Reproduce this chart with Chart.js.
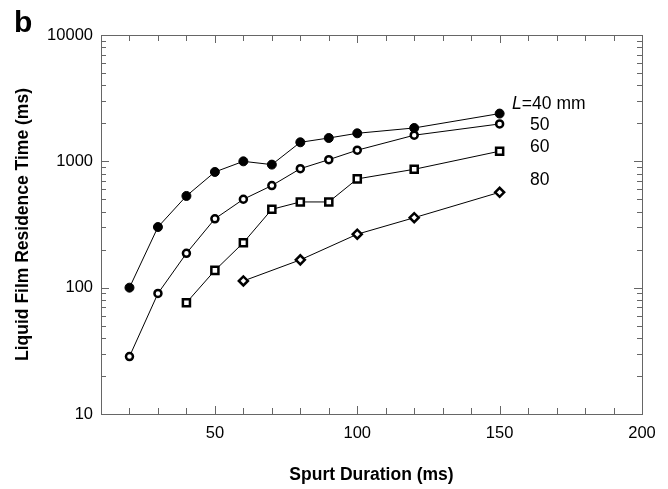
<!DOCTYPE html>
<html>
<head>
<meta charset="utf-8">
<script src="https://cdn.jsdelivr.net/npm/chart.js@4.4.1/dist/chart.umd.min.js"></script>
<style>
  html, body { margin: 0; padding: 0; background: #fff; }
  #wrap { width: 668px; height: 489px; position: relative; }
</style>
</head>
<body>
<div id="wrap"><canvas id="chart"></canvas></div>
<script>
// data (spurt duration in ms, residence time in ms)
const spurtL40 = [20, 30, 40, 50, 60, 70, 80, 90, 100, 120, 150];
const timeL40  = [100, 302, 532, 824, 1000, 942, 1415, 1530, 1667, 1837, 2388];

const spurtL50 = [20, 30, 40, 50, 60, 70, 80, 90, 100, 120, 150];
const timeL50  = [28.5, 90, 187, 351, 501, 643, 875, 1031, 1225, 1610, 1977];

const spurtL60 = [40, 50, 60, 70, 80, 90, 100, 120, 150];
const timeL60  = [76, 137, 227, 417, 477, 477, 726, 865, 1203];

const spurtL80 = [60, 80, 100, 120, 150];
const timeL80  = [113, 166, 265, 358, 569];

const seriesNames = ["40 mm", "50", "60", "80"];
const xTickValues = [50, 100, 150, 200];
const yTickValues = [10, 100, 1000, 10000];

const FONT = "'Liberation Sans', Arial, sans-serif";
const AXIS_COLOR = "#666";

function toPoints(xs, ys) {
  return xs.map((x, i) => ({ x: x, y: ys[i] }));
}

// frame, inward ticks, panel letter and the L labels
const decorPlugin = {
  id: "decor",
  afterDraw(chart) {
    const { ctx, chartArea: a, scales } = chart;
    const xs = scales.x, ys = scales.y;
    ctx.save();
    ctx.strokeStyle = AXIS_COLOR;
    ctx.lineWidth = 1;
    ctx.strokeRect(a.left + 0.5, a.top + 0.5, a.right - a.left, a.bottom - a.top);

    ctx.beginPath();
    // x ticks every 10, longer every 50
    for (let v = 10; v <= 200; v += 10) {
      const px = Math.round(xs.getPixelForValue(v)) + 0.5;
      const len = v % 50 === 0 ? 8 : 6;
      ctx.moveTo(px, a.bottom); ctx.lineTo(px, a.bottom - len);
      ctx.moveTo(px, a.top); ctx.lineTo(px, a.top + len);
    }
    // y log ticks
    for (let d = 10; d <= 10000; d *= 10) {
      for (let m = 1; m <= 9; m++) {
        const v = d * m;
        if (v > 10000) break;
        const py = Math.round(ys.getPixelForValue(v)) + 0.5;
        const len = m === 1 ? 8 : 5;
        ctx.moveTo(a.left, py); ctx.lineTo(a.left + len, py);
        ctx.moveTo(a.right, py); ctx.lineTo(a.right - len, py);
      }
    }
    ctx.stroke();

    // panel letter
    ctx.fillStyle = "#000";
    ctx.textBaseline = "alphabetic";
    ctx.textAlign = "left";
    ctx.font = "bold 30px " + FONT;
    ctx.fillText("b", 14, 32);

    // series labels at the right end
    const labelX = xs.getPixelForValue(160.7);
    ctx.textBaseline = "middle";
    ctx.font = "italic 17.5px " + FONT;
    const lx = labelX - 18;
    const y0 = ys.getPixelForValue(2845);
    ctx.fillText("L", lx, y0);
    const lw = ctx.measureText("L").width;
    ctx.font = "17.5px " + FONT;
    ctx.fillText("=" + seriesNames[0], lx + lw, y0);
    ctx.fillText(seriesNames[1], labelX, ys.getPixelForValue(1940));
    ctx.fillText(seriesNames[2], labelX, ys.getPixelForValue(1300));
    ctx.fillText(seriesNames[3], labelX, ys.getPixelForValue(713));
    ctx.restore();
  }
};

const common = {
  borderColor: "#000",
  borderWidth: 1,
  pointBorderColor: "#000",
  pointBorderWidth: 2.5,
  tension: 0,
  fill: false
};

new Chart(document.getElementById("chart"), {
  type: "line",
  data: {
    datasets: [
      Object.assign({}, common, {
        label: "L=40 mm", data: toPoints(spurtL40, timeL40),
        pointStyle: "circle", pointRadius: 4.5, pointBackgroundColor: "#000", pointBorderWidth: 1
      }),
      Object.assign({}, common, {
        label: "50", data: toPoints(spurtL50, timeL50),
        pointStyle: "circle", pointRadius: 3.5, pointBackgroundColor: "#fff"
      }),
      Object.assign({}, common, {
        label: "60", data: toPoints(spurtL60, timeL60),
        pointStyle: "rect", pointRadius: 5, pointBackgroundColor: "#fff"
      }),
      Object.assign({}, common, {
        label: "80", data: toPoints(spurtL80, timeL80),
        pointStyle: "rectRot", pointRadius: 4.5, pointBackgroundColor: "#fff"
      })
    ]
  },
  options: {
    responsive: true,
    maintainAspectRatio: false,
    animation: false,
    layout: { padding: { left: 0, top: 35, right: 26, bottom: 0 } },
    plugins: { legend: { display: false }, tooltip: { enabled: false } },
    scales: {
      x: {
        type: "linear",
        min: 10, max: 200,
        grid: { display: false, drawTicks: false },
        border: { display: false },
        afterBuildTicks: (s) => { s.ticks = xTickValues.map(v => ({ value: v })); },
        afterFit: (s) => { s.height = 75; },
        ticks: { color: "#000", padding: 10, maxRotation: 0, font: { family: FONT, size: 16.5 } },
        title: {
          display: true, text: "Spurt Duration (ms)", color: "#000",
          padding: { top: 0, bottom: 3 }, font: { family: FONT, size: 17.5, weight: "bold" }
        }
      },
      y: {
        type: "logarithmic",
        min: 10, max: 10000,
        grid: { display: false, drawTicks: false },
        border: { display: false },
        afterBuildTicks: (s) => { s.ticks = yTickValues.map(v => ({ value: v })); },
        afterFit: (s) => { s.width = 101; },
        ticks: { color: "#000", padding: 8, font: { family: FONT, size: 16.5 }, callback: (v) => String(v) },
        title: {
          display: true, text: "Liquid Film Residence Time (ms)", color: "#000",
          padding: { top: 12.5, bottom: 0 }, font: { family: FONT, size: 17.5, weight: "bold" }
        }
      }
    }
  },
  plugins: [decorPlugin]
});
</script>
</body>
</html>
